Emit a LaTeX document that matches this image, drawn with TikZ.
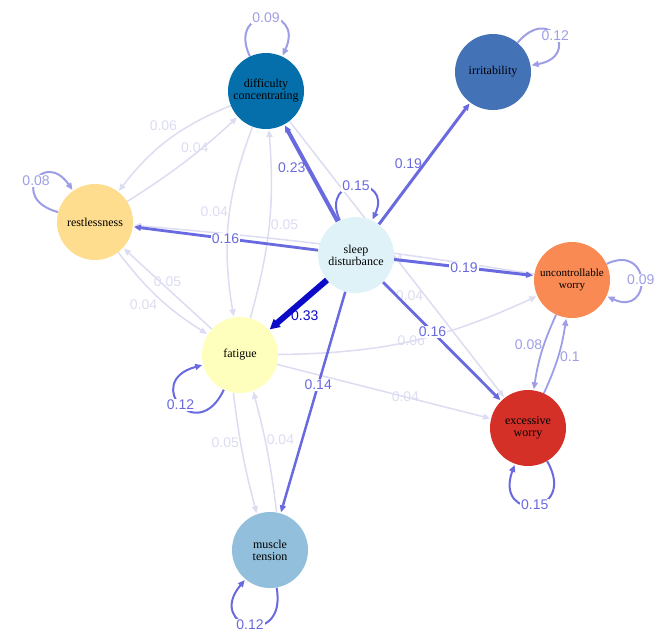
\documentclass[tikz,border=0pt]{standalone}
\usepackage{fontspec}
\setmainfont{Liberation Serif}
\newfontfamily\lab{Liberation Sans}
\usetikzlibrary{arrows.meta}
\pgfdeclarelayer{bg}
\pgfsetlayers{bg,main}
\definecolor{eD}{HTML}{0B0BC8}
\definecolor{eM}{HTML}{6A6AE0}
\definecolor{eL}{HTML}{9E9EE6}
\definecolor{eV}{HTML}{DCDCF2}
\tikzset{
 nd/.style={circle,minimum size=76pt,inner sep=0pt,align=center,font=\fontsize{12}{12}\selectfont},
 ed/.style={-{Triangle[length=7pt,width=6pt]},shorten >=1pt},
 lb/.style={font=\lab\fontsize{14}{14}\selectfont,inner sep=1pt},
 lp/.style={ed,line width=2pt,draw=eL},
}
\begin{document}
\begin{tikzpicture}[x=1pt,y=-1pt]
\useasboundingbox (0,0) rectangle (669,633);
\node[nd,fill={rgb,255:red,4;green,111;blue,170}] (dc) at (266,91) {difficulty\\concentrating};
\node[nd,fill={rgb,255:red,68;green,114;blue,182}] (ir) at (493,72) {irritability};
\node[nd,fill={rgb,255:red,254;green,221;blue,142}] (re) at (95,222) {restlessness};
\node[nd,fill={rgb,255:red,223;green,242;blue,248}] (sd) at (356,255) {sleep\\disturbance};
\node[nd,fill={rgb,255:red,250;green,138;blue,83},font=\fontsize{11}{12}\selectfont] (uw) at (572,280) {uncontrollable\\worry};
\node[nd,fill={rgb,255:red,255;green,255;blue,189}] (fa) at (240,355) {fatigue};
\node[nd,fill={rgb,255:red,213;green,48;blue,39}] (ew) at (528,428) {excessive\\worry};
\node[nd,fill={rgb,255:red,146;green,191;blue,219}] (mt) at (270,550) {muscle\\tension};
\begin{pgfonlayer}{bg}
\begin{scope}[eV,line width=1.5pt]
\draw[ed] (dc) to[bend right=15] node[lb,pos=0.4,above left]{0.06} (re);
\draw[ed] (re) to[bend right=5] node[lb,pos=0.6,above]{0.04} (dc);
\draw[ed] (dc) to[bend right=15] node[lb,pos=0.45,left]{0.04} (fa);
\draw[ed] (fa) to[bend right=10] node[lb,pos=0.5,right]{0.05} (dc);
\draw[ed] (fa) to node[lb,pos=0.5,above]{0.05} (re);
\draw[ed] (re) to[bend right=10] node[lb,pos=0.5,below left]{0.04} (fa);
\draw[ed] (fa.-100) to[bend right=4] node[lb,pos=0.4,left]{0.05} (mt.110);
\draw[ed] (mt.80) to[bend right=4] node[lb,pos=0.6,right]{0.04} (fa.-70);
\draw[ed] (uw) to[bend right=2] node[lb,pos=0.35,below]{0.04} (re);
\draw[ed] (dc) to node[lb,pos=0.63,left]{0.04} (ew);
\draw[ed] (fa) to[bend right=12] node[lb,pos=0.5]{0.06} (uw);
\draw[ed] (fa) to node[lb,pos=0.6]{0.04} (ew);
\end{scope}
\begin{scope}[eL,line width=1.8pt]
\draw[ed] (uw) to[bend right=8] node[lb,pos=0.4,left]{0.08} (ew);
\draw[ed] (ew) to[bend right=8] node[lb,pos=0.5,right]{0.1} (uw);
\end{scope}
\begin{scope}[eM]
\draw[ed,line width=4pt] (sd) to node[lb,pos=0.55,left]{0.23} (dc);
\draw[ed,line width=3pt] (sd) to node[lb,pos=0.5,left]{0.19} (ir);
\draw[ed,line width=2.8pt] (sd) to node[lb,pos=0.5,fill=white]{0.16} (re);
\draw[ed,line width=3pt] (sd) to node[lb,pos=0.5,fill=white]{0.19} (uw);
\draw[ed,line width=2.8pt] (sd) to node[lb,pos=0.42,fill=white]{0.16} (ew);
\draw[ed,line width=2.5pt] (sd) to node[lb,pos=0.42,fill=white]{0.14} (mt);
\end{scope}
\draw[ed,eD,line width=6pt,-{Triangle[length=10pt,width=10pt]}] (sd) to node[lb,pos=0.72,right=2pt]{0.33} (fa);
\draw[lp] (dc.115) to[out=115,in=65,looseness=4.5] node[lb,pos=0.5,text=eL,fill=white]{0.09} (dc.65);
\draw[lp] (ir.50) to[out=50,in=10,looseness=5] node[lb,pos=0.5,text=eL,fill=white]{0.12} (ir.10);
\draw[lp,draw=eM] (sd.115) to[out=115,in=65,looseness=4] node[lb,pos=0.5,text=eM,fill=white]{0.15} (sd.65);
\draw[lp] (re.165) to[out=165,in=125,looseness=5] node[lb,pos=0.5,text=eL,fill=white]{0.08} (re.125);
\draw[lp] (uw.25) to[out=25,in=-25,looseness=4] node[lb,pos=0.5,text=eL,fill=white]{0.09} (uw.-25);
\draw[lp,draw=eM] (fa.-115) to[out=-115,in=-165,looseness=5] node[lb,pos=0.5,text=eM,fill=white]{0.12} (fa.-165);
\draw[lp,draw=eM] (ew.-60) to[out=-60,in=-110,looseness=5] node[lb,pos=0.5,text=eM,fill=white]{0.15} (ew.-110);
\draw[lp,draw=eM] (mt.-80) to[out=-80,in=-130,looseness=5] node[lb,pos=0.5,text=eM,fill=white]{0.12} (mt.-130);
\end{pgfonlayer}
\end{tikzpicture}
\end{document}
